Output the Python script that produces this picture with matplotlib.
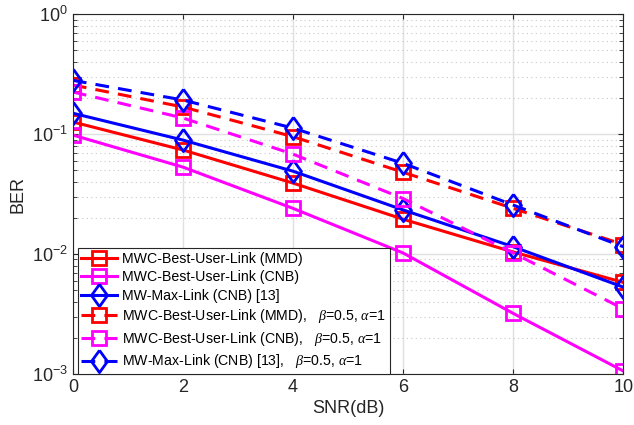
import matplotlib
matplotlib.use("Agg")
import matplotlib.pyplot as plt
import numpy as np

plt.rcParams["font.family"] = ["Liberation Sans", "DejaVu Sans"]
plt.rcParams["mathtext.fontset"] = "custom"
plt.rcParams["mathtext.it"] = "Liberation Serif:italic"

SNR_DB = [0, 2, 4, 6, 8, 10]

BER_MMD = [0.126, 0.0736, 0.039, 0.0195, 0.0104, 0.0058]
BER_CNB = [0.098, 0.053, 0.024, 0.0102, 0.0032, 0.00106]
BER_MAXLINK = [0.149, 0.089, 0.049, 0.0233, 0.0115, 0.0053]
BER_MMD_B = [0.256, 0.168, 0.095, 0.048, 0.024, 0.0120]
BER_CNB_B = [0.224, 0.136, 0.068, 0.029, 0.0102, 0.0035]
BER_MAXLINK_B = [0.28, 0.192, 0.112, 0.057, 0.0256, 0.0115]

LABELS = [
    "MWC-Best-User-Link (MMD)",
    "MWC-Best-User-Link (CNB)",
    "MW-Max-Link (CNB) [13]",
    r"MWC-Best-User-Link (MMD),   $\beta$=0.5, $\alpha$=1",
    r"MWC-Best-User-Link (CNB),   $\beta$=0.5, $\alpha$=1",
    r"MW-Max-Link (CNB) [13],   $\beta$=0.5, $\alpha$=1",
]

RED = "#ff0000"
MAGENTA = "#ff00ff"
BLUE = "#0000ff"

# tall diamond like MATLAB's 'd' marker
DIAMOND = [(0, 1), (0.72, 0), (0, -1), (-0.72, 0), (0, 1)]

fig = plt.figure(figsize=(6.34, 4.25), dpi=100)
ax = fig.add_axes([0.115, 0.12, 0.868, 0.847])

series = [
    (BER_MMD, RED, "s", "-"),
    (BER_CNB, MAGENTA, "s", "-"),
    (BER_MAXLINK, BLUE, DIAMOND, "-"),
    (BER_MMD_B, RED, "s", "--"),
    (BER_CNB_B, MAGENTA, "s", "--"),
    (BER_MAXLINK_B, BLUE, DIAMOND, "--"),
]

for (vals, color, marker, ls), label in zip(series, LABELS):
    ms = 10 if marker == "s" else 16
    line, = ax.semilogy(
        SNR_DB, vals, color=color, linestyle=ls, linewidth=2.2,
        marker=marker, markersize=ms, markerfacecolor="none",
        markeredgewidth=2.0, label=label,
    )
    if ls == "--":
        line.set_dashes((4.5, 3))

ax.set_xlim(0, 10)
ax.set_ylim(1e-3, 1)
ax.set_xticks(SNR_DB)
ax.set_xlabel("SNR(dB)", fontsize=13, color="#262626", labelpad=3)
ax.set_ylabel("BER", fontsize=13, color="#262626")
ax.tick_params(axis="both", which="both", direction="in", labelsize=13,
               colors="#262626", top=True, right=True)
ax.tick_params(axis="y", which="minor", length=3)
ax.grid(True, which="major", color="#e0e0e0", linewidth=1.0, linestyle="-")
ax.grid(True, which="minor", axis="y", color="#c8c8c8", linewidth=0.8, linestyle=(0, (1, 3)))
ax.set_axisbelow(True)
for spine in ax.spines.values():
    spine.set_color("#262626")
    spine.set_linewidth(0.8)

leg = ax.legend(
    loc="lower left", bbox_to_anchor=(0.009, 0.0), fontsize=10.2,
    handlelength=2.5, handletextpad=0.4, borderpad=0.25, labelspacing=0.32,
    fancybox=False, framealpha=1.0, edgecolor="#262626", borderaxespad=0.0,
)
leg.get_frame().set_linewidth(0.8)

fig.savefig("out.png", dpi=100)
